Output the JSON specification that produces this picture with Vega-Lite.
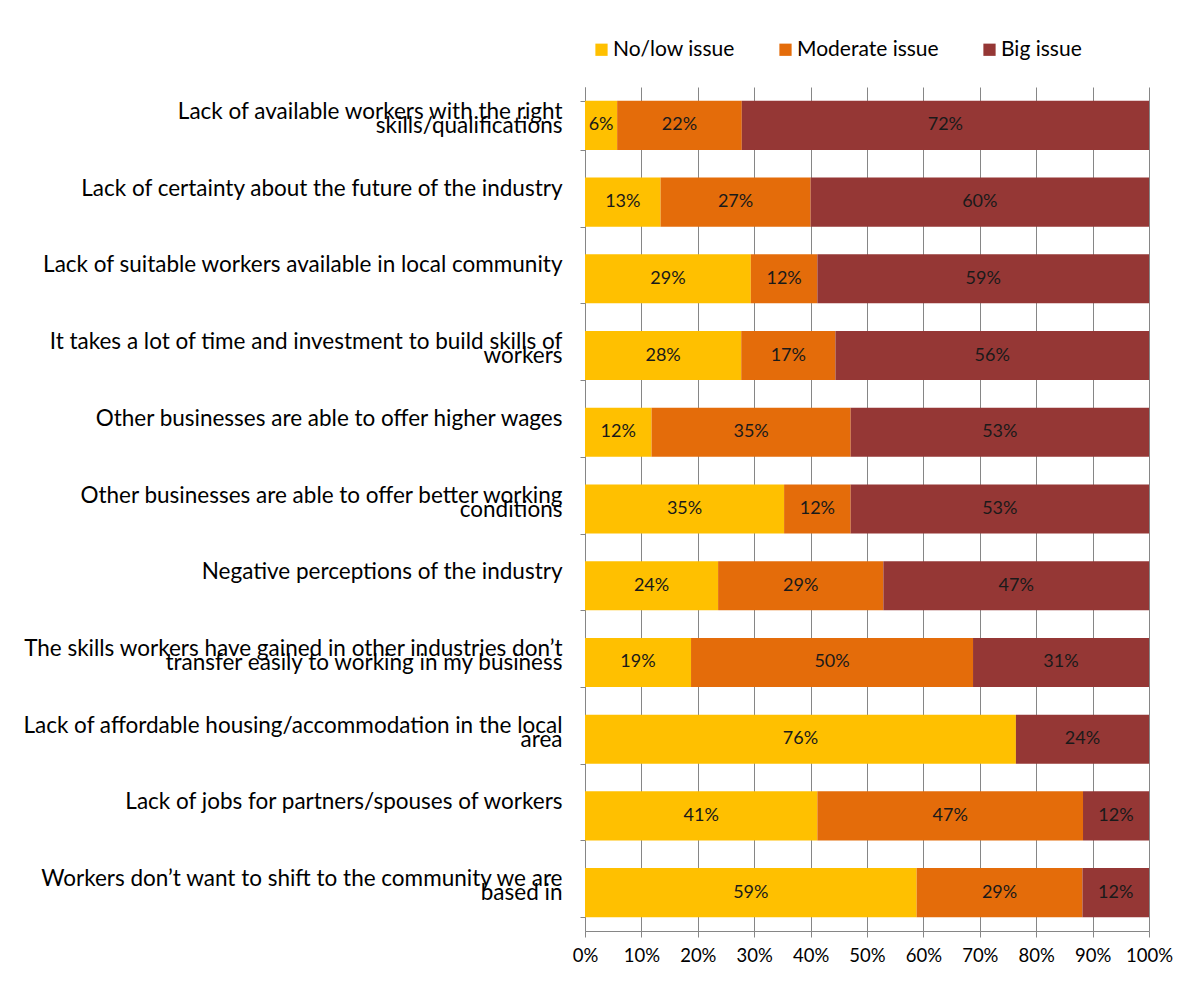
{
  "$schema": "https://vega.github.io/schema/vega-lite/v6.json",
  "width": 564,
  "height": 844,
  "autosize": "none",
  "padding": {"left": 585, "top": 87, "right": 46, "bottom": 52},
  "background": "white",
  "config": {
    "font": "Lato",
    "view": {"stroke": null},
    "axis": {"labelFont": "Lato", "labelColor": "#000000"}
  },
  "datasets": {
    "survey": [
      {"barrier": "Lack of available workers with the right skills/qualifications", "issue": "No/low issue", "share": 0.057},
      {"barrier": "Lack of available workers with the right skills/qualifications", "issue": "Moderate issue", "share": 0.221},
      {"barrier": "Lack of available workers with the right skills/qualifications", "issue": "Big issue", "share": 0.722},
      {"barrier": "Lack of certainty about the future of the industry", "issue": "No/low issue", "share": 0.134},
      {"barrier": "Lack of certainty about the future of the industry", "issue": "Moderate issue", "share": 0.266},
      {"barrier": "Lack of certainty about the future of the industry", "issue": "Big issue", "share": 0.600},
      {"barrier": "Lack of suitable workers available in local community", "issue": "No/low issue", "share": 0.294},
      {"barrier": "Lack of suitable workers available in local community", "issue": "Moderate issue", "share": 0.118},
      {"barrier": "Lack of suitable workers available in local community", "issue": "Big issue", "share": 0.588},
      {"barrier": "It takes a lot of time and investment to build skills of workers", "issue": "No/low issue", "share": 0.277},
      {"barrier": "It takes a lot of time and investment to build skills of workers", "issue": "Moderate issue", "share": 0.167},
      {"barrier": "It takes a lot of time and investment to build skills of workers", "issue": "Big issue", "share": 0.556},
      {"barrier": "Other businesses are able to offer higher wages", "issue": "No/low issue", "share": 0.118},
      {"barrier": "Other businesses are able to offer higher wages", "issue": "Moderate issue", "share": 0.353},
      {"barrier": "Other businesses are able to offer higher wages", "issue": "Big issue", "share": 0.529},
      {"barrier": "Other businesses are able to offer better working conditions", "issue": "No/low issue", "share": 0.353},
      {"barrier": "Other businesses are able to offer better working conditions", "issue": "Moderate issue", "share": 0.118},
      {"barrier": "Other businesses are able to offer better working conditions", "issue": "Big issue", "share": 0.529},
      {"barrier": "Negative perceptions of the industry", "issue": "No/low issue", "share": 0.236},
      {"barrier": "Negative perceptions of the industry", "issue": "Moderate issue", "share": 0.293},
      {"barrier": "Negative perceptions of the industry", "issue": "Big issue", "share": 0.471},
      {"barrier": "The skills workers have gained in other industries don’t transfer easily to working in my business", "issue": "No/low issue", "share": 0.188},
      {"barrier": "The skills workers have gained in other industries don’t transfer easily to working in my business", "issue": "Moderate issue", "share": 0.500},
      {"barrier": "The skills workers have gained in other industries don’t transfer easily to working in my business", "issue": "Big issue", "share": 0.312},
      {"barrier": "Lack of affordable housing/accommodation in the local area", "issue": "No/low issue", "share": 0.764},
      {"barrier": "Lack of affordable housing/accommodation in the local area", "issue": "Big issue", "share": 0.236},
      {"barrier": "Lack of jobs for partners/spouses of workers", "issue": "No/low issue", "share": 0.412},
      {"barrier": "Lack of jobs for partners/spouses of workers", "issue": "Moderate issue", "share": 0.471},
      {"barrier": "Lack of jobs for partners/spouses of workers", "issue": "Big issue", "share": 0.117},
      {"barrier": "Workers don’t want to shift to the community we are based in", "issue": "No/low issue", "share": 0.588},
      {"barrier": "Workers don’t want to shift to the community we are based in", "issue": "Moderate issue", "share": 0.294},
      {"barrier": "Workers don’t want to shift to the community we are based in", "issue": "Big issue", "share": 0.118}
    ]
  },
  "data": {"name": "survey"},
  "encoding": {
    "y": {
      "field": "barrier",
      "type": "nominal",
      "sort": null,
      "title": null,
      "scale": {"paddingInner": 0.36, "paddingOuter": 0.18},
      "axis": {
        "domainColor": "#868686",
        "tickColor": "#868686",
        "tickBand": "extent",
        "tickSize": 5,
        "labelPadding": 18,
        "labelFontSize": 22.5,
        "labelLimit": 700,
        "labelLineHeight": 14,
        "labelOffset": -28,
        "labelBaseline": "middle",
        "labelOverlap": false,
        "labelExpr": "datum.label == 'Lack of available workers with the right skills/qualifications' ? ['\u00a0', 'Lack of available workers with the right', '\u00a0', 'skills/qualifications' + pad('', 23, '\u00a0')] : datum.label == 'It takes a lot of time and investment to build skills of workers' ? ['\u00a0', 'It takes a lot of time and investment to build skills of', '\u00a0', 'workers' + pad('', 50, '\u00a0')] : datum.label == 'Other businesses are able to offer better working conditions' ? ['\u00a0', 'Other businesses are able to offer better working', '\u00a0', 'conditions' + pad('', 44, '\u00a0')] : datum.label == 'The skills workers have gained in other industries don’t transfer easily to working in my business' ? ['\u00a0', 'The skills workers have gained in other industries don’t', '\u00a0', 'transfer easily to working in my business' + pad('', 16, '\u00a0')] : datum.label == 'Lack of affordable housing/accommodation in the local area' ? ['\u00a0', 'Lack of affordable housing/accommodation in the local', '\u00a0', 'area' + pad('', 57, '\u00a0')] : datum.label == 'Workers don’t want to shift to the community we are based in' ? ['\u00a0', 'Workers don’t want to shift to the community we are', '\u00a0', 'based in' + pad('', 51, '\u00a0')] : ['\u00a0', '\u00a0', datum.label]"
      }
    }
  },
  "layer": [
    {
      "mark": {"type": "bar"},
      "encoding": {
        "x": {
          "field": "share",
          "type": "quantitative",
          "stack": "zero",
          "title": null,
          "scale": {"domain": [0, 1], "nice": false},
          "axis": {
            "format": ".0%",
            "values": [0, 0.1, 0.2, 0.3, 0.4, 0.5, 0.6, 0.7, 0.8, 0.9, 1],
            "grid": true,
            "gridColor": "#868686",
            "gridWidth": 1,
            "domainColor": "#868686",
            "tickColor": "#868686",
            "tickSize": 6,
            "labelFontSize": 18.5,
            "labelPadding": 9,
            "labelFlush": false
          }
        },
        "color": {
          "field": "issue",
          "type": "nominal",
          "scale": {
            "domain": ["No/low issue", "Moderate issue", "Big issue"],
            "range": ["#FFC000", "#E46C0A", "#953735"]
          },
          "legend": {
            "title": null,
            "orient": "none",
            "direction": "horizontal",
            "legendX": 6,
            "legendY": -48,
            "symbolType": "square",
            "symbolSize": 150,
            "symbolStrokeWidth": 0,
            "symbolOpacity": 1,
            "labelFontSize": 21,
            "labelOffset": 1,
            "columnPadding": 40
          }
        },
        "order": {"field": "issue", "sort": "descending"}
      }
    },
    {
      "mark": {"type": "text", "fontSize": 18, "color": "#1a1a1a", "baseline": "middle", "align": "center"},
      "encoding": {
        "x": {"field": "share", "type": "quantitative", "stack": "zero", "bandPosition": 0.5},
        "text": {"field": "share", "type": "quantitative", "format": ".0%"},
        "detail": {"field": "issue"},
        "order": {"field": "issue", "sort": "descending"}
      }
    }
  ]
}
